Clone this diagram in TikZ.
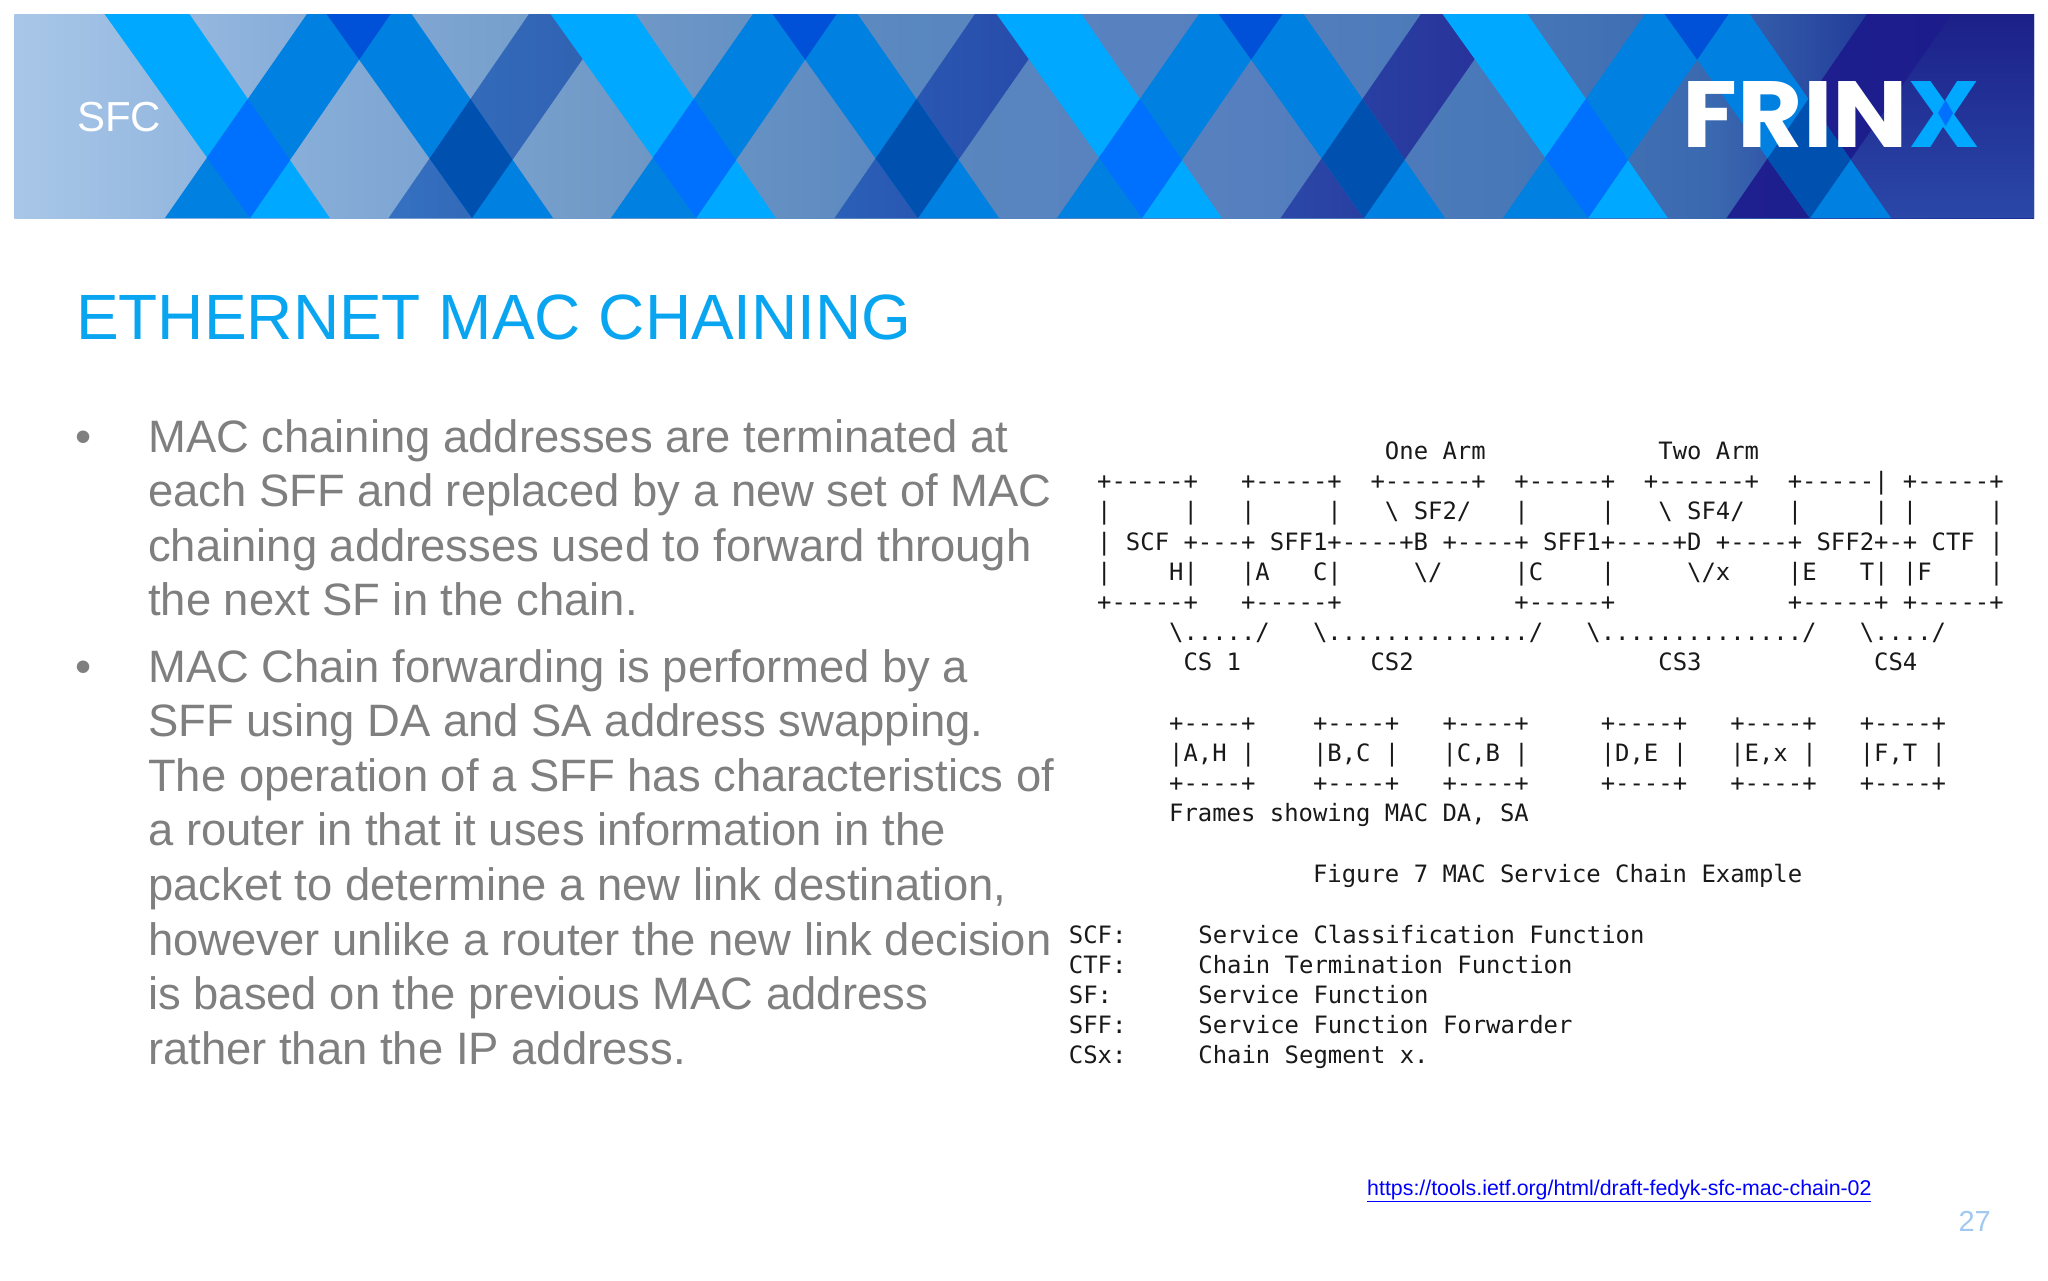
\documentclass[tikz,border=0pt]{standalone}
\usepackage{fontspec}
\usepackage{graphicx}
\setmainfont{Liberation Sans}
\setmonofont{DejaVu Sans Mono}
\newfontfamily\logofont{Poppins}
\usepackage{tikz}
\definecolor{bandcyan}{HTML}{00A8FF}
\definecolor{bandblue}{HTML}{0080E0}
\definecolor{crossbright}{HTML}{0070FF}
\definecolor{crosstop}{HTML}{0050D8}
\definecolor{crossdark}{HTML}{0050B0}
\definecolor{titleblue}{HTML}{0AA5F0}
\definecolor{bodygray}{HTML}{7F7F7F}
\definecolor{pageblue}{HTML}{A0C8F0}
\definecolor{cornertop}{HTML}{1C2088}
\definecolor{cornerlow}{HTML}{2A48A8}
\pgfdeclarehorizontalshading{bannerbg}{100bp}{
    rgb(0bp)=(0.66,0.78,0.91); rgb(25bp)=(0.66,0.78,0.91); rgb(32bp)=(0.53,0.68,0.85);
    rgb(40bp)=(0.44,0.60,0.78); rgb(47bp)=(0.35,0.53,0.75); rgb(55bp)=(0.34,0.50,0.75);
    rgb(62bp)=(0.28,0.47,0.72); rgb(67bp)=(0.23,0.41,0.69); rgb(71bp)=(0.13,0.23,0.60);
    rgb(75bp)=(0.11,0.16,0.56); rgb(100bp)=(0.11,0.16,0.56)}
\newcommand*{\banda}{(104.5,14)--(189.4,14)--(329.8,218)--(250.2,218)--cycle}
\newcommand*{\bandb}{(326.6,14)--(411.5,14)--(553,218)--(472,218)--cycle}
\newcommand*{\bandc}{(165,218)--(250,218)--(390.6,14)--(307,14)--cycle}
\newcommand*{\bandd}{(388.6,218)--(472,218)--(614,14)--(529,14)--cycle}
\tikzset{
    bodytext/.style={anchor=north west, inner sep=0, align=left, text=bodygray,
        font=\fontsize{45.4}{54.6}\selectfont},
    bullet/.style={inner sep=0, text=bodygray, font=\fontsize{46}{54.6}\selectfont},
    ascii/.style={anchor=north west, inner sep=0, align=left, text=black!90,
        font=\ttfamily\fontsize{23.9}{30.2}\selectfont},
}
\newcommand*{\bs}{\textbackslash}

\begin{document}
\begin{tikzpicture}[x=1pt, y=-1pt]
    \useasboundingbox(0, 0)rectangle(2048, 1280);
    \shade[shading=bannerbg](14.4, 14)rectangle(2034, 218);
    \shade[top color=cornertop, bottom color=cornerlow](1952, 14)--(2034, 14)--(2034, 218)--(1810, 218)--cycle;
    \foreach \px/\dl/\dr in {0/3570C0/3060B0, 446/2A60B8/2848A8, 892/2A48A8/283098, 1338/1F2090/1C1C8C}{
        \begin{scope}[shift={(\px, 0)}]
            \definecolor{dleft}{HTML}{\dl}
            \definecolor{dright}{HTML}{\dr}
            \shade[left color=dleft, right color=dright]\bandd;
            \fill[bandcyan]\banda;
            \fill[bandblue]\bandc;
            \fill[bandblue]\bandb;
            \begin{scope}
                \clip\bandc;
                \fill[crossbright]\banda;
                \fill[crosstop]\bandb;
            \end{scope}
            \begin{scope}
                \clip\bandd;
                \fill[crossdark]\bandb;
            \end{scope}
        \end{scope}
    }
    \node[anchor=west, inner sep=0, text=white, font=\fontsize{42}{42}\selectfont](section)at(77, 117){SFC};
    \node[anchor=base west, inner sep=0, text=white, font=\logofont\bfseries\fontsize{94}{94}\selectfont](logo)
        at(1682.5, 147){\scalebox{1.068}[1]{FRIN{\color{bandcyan}X}}};
    \fill[crossbright](1945.6, 100)--(1953, 113)--(1945.6, 126)--(1938, 113)--cycle;

    \node[anchor=base west, inner sep=0, text=titleblue, font=\fontsize{64}{64}\selectfont](title)
        at(76, 339){ETHERNET MAC CHAINING};

    \node[bullet](bulleta)at(84, 442){•};
    \node[bodytext](parta)at(148, 419){MAC chaining addresses are terminated at\\
        each SFF and replaced by a new set of MAC\\
        chaining addresses used to forward through\\
        the next SF in the chain.};
    \node[bullet](bulletb)at(84, 672){•};
    \node[bodytext](partb)at(148, 649){MAC Chain forwarding is performed by a\\
        SFF using DA and SA address swapping.\\
        The operation of a SFF has characteristics of\\
        a router in that it uses information in the\\
        packet to determine a new link destination,\\
        however unlike a router the new link decision\\
        is based on the previous MAC address\\
        rather than the IP address.};

    \node[ascii](chart)at(1097, 441.5){%
        ~~~~~~~~~~~~~~~~~~~~One~Arm~~~~~~~~~~~~Two~Arm\\
        +-----+~~~+-----+~~+------+~~+-----+~~+------+~~+-----|~+-----+\\
        |~~~~~|~~~|~~~~~|~~~\bs~SF2/~~~|~~~~~|~~~\bs~SF4/~~~|~~~~~|~|~~~~~|\\
        |~SCF~+---+~SFF1+----+B~+----+~SFF1+----+D~+----+~SFF2+-+~CTF~|\\
        |~~~~H|~~~|A~~~C|~~~~~\bs/~~~~~|C~~~~|~~~~~\bs/x~~~~|E~~~T|~|F~~~~|\\
        +-----+~~~+-----+~~~~~~~~~~~~+-----+~~~~~~~~~~~~+-----+~+-----+\\
        ~~~~~\bs...../~~~\bs............../~~~\bs............../~~~\bs..../\\
        ~~~~~~CS~1~~~~~~~~~CS2~~~~~~~~~~~~~~~~~CS3~~~~~~~~~~~~CS4\\
        ~\\
        ~~~~~+----+~~~~+----+~~~+----+~~~~~+----+~~~+----+~~~+----+\\
        ~~~~~|A,H~|~~~~|B,C~|~~~|C,B~|~~~~~|D,E~|~~~|E,x~|~~~|F,T~|\\
        ~~~~~+----+~~~~+----+~~~+----+~~~~~+----+~~~+----+~~~+----+\\
        ~~~~~Frames~showing~MAC~DA,~SA\\
        ~\\
        ~~~~~~~~~~~~~~~Figure~7~MAC~Service~Chain~Example};
    \node[ascii](legend)at(1068.7, 924.5){SCF:~~~~~Service~Classification~Function\\
        CTF:~~~~~Chain~Termination~Function\\
        SF:~~~~~~Service~Function\\
        SFF:~~~~~Service~Function~Forwarder\\
        CSx:~~~~~Chain~Segment~x.};

    \node[anchor=base west, inner sep=0, text=blue, font=\fontsize{21.35}{22}\selectfont](link)
        at(1367, 1195){\underline{https://tools.ietf.org/html/draft-fedyk-sfc-mac-chain-02}};
    \node[anchor=base east, inner sep=0, text=pageblue, font=\fontsize{29}{29}\selectfont](page)at(1991, 1231){27};
\end{tikzpicture}
\end{document}
